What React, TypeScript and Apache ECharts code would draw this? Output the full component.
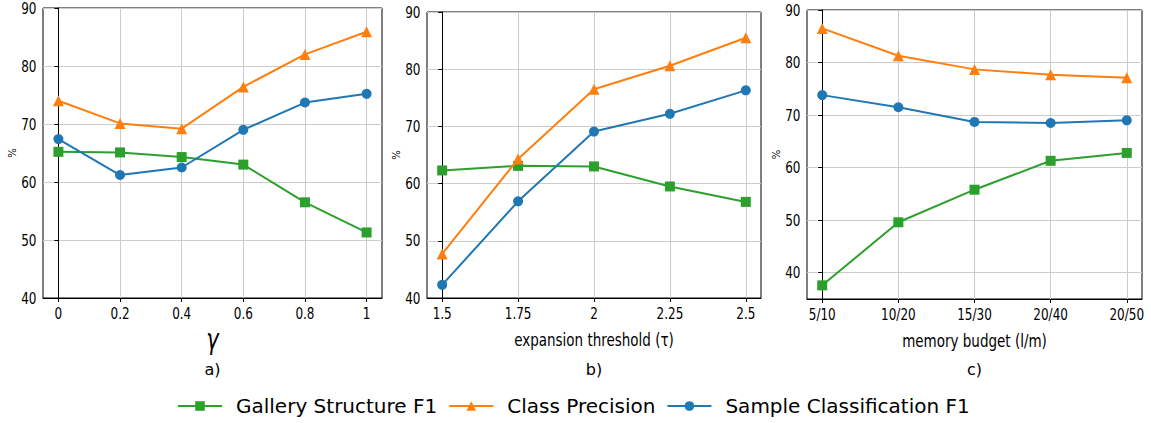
import React, { useEffect, useRef } from "react";
import * as echarts from "echarts";

const gammaLabels = ["0", "0.2", "0.4", "0.6", "0.8", "1"];
const tauLabels = ["1.5", "1.75", "2", "2.25", "2.5"];
const budgetLabels = ["5/10", "10/20", "15/30", "20/40", "20/50"];
const seriesNames = ["Gallery Structure F1", "Class Precision", "Sample Classification F1"];
const yTicks = [40, 50, 60, 70, 80, 90];

const gammaGallery = [65.2, 65.1, 64.3, 63.0, 56.5, 51.3];
const gammaPrecision = [74.0, 70.1, 69.2, 76.4, 82.0, 85.9];
const gammaSample = [67.4, 61.2, 62.5, 69.0, 73.7, 75.2];

const tauGallery = [62.3, 63.1, 63.0, 59.5, 56.8];
const tauPrecision = [47.7, 64.3, 76.5, 80.6, 85.5];
const tauSample = [42.3, 56.9, 69.1, 72.2, 76.3];

const budgetGallery = [37.6, 49.6, 55.8, 61.3, 62.8];
const budgetPrecision = [86.5, 81.3, 78.7, 77.7, 77.1];
const budgetSample = [73.8, 71.5, 68.7, 68.5, 69.0];

const colors = ["#2ca02c", "#ff7f0e", "#1f77b4"];
const symbols = ["rect", "triangle", "circle"];
const symbolSizes = [10, 11, 10];
const FONT = "DejaVu Sans";
const SQUEEZE = 0.75;

export default function App() {
  const ref = useRef<HTMLDivElement>(null);
  useEffect(() => {
    document.body.style.margin = "0";
    if (!ref.current) return;
    const chart = echarts.init(ref.current, null, { renderer: "svg" });

    const panels = [
      {
        grid: { left: 43, top: 8, width: 339, height: 290 },
        labels: gammaLabels,
        pad: 0.25,
        yMin: 40,
        data: [gammaGallery, gammaPrecision, gammaSample],
        xName: "γ",
        xNameSize: 28,
        xNameItalic: true,
        xNameY: 339,
        sub: "a)",
      },
      {
        grid: { left: 427, top: 12, width: 334, height: 286 },
        labels: tauLabels,
        pad: 0.2,
        yMin: 40,
        data: [tauGallery, tauPrecision, tauSample],
        xName: "expansion threshold (τ)",
        xNameSize: 18,
        xNameItalic: false,
        xNameY: 340,
        sub: "b)",
      },
      {
        grid: { left: 807, top: 10, width: 335, height: 289 },
        labels: budgetLabels,
        pad: 0.2,
        yMin: 35,
        data: [budgetGallery, budgetPrecision, budgetSample],
        xName: "memory budget (l/m)",
        xNameSize: 18,
        xNameItalic: false,
        xNameY: 341,
        sub: "c)",
      },
    ];

    const grids: any[] = [];
    const xAxes: any[] = [];
    const yAxes: any[] = [];
    const series: any[] = [];

    panels.forEach((p, pi) => {
      grids.push({
        ...p.grid,
        show: true,
        borderColor: "#000",
        borderWidth: 1,
        backgroundColor: "transparent",
        containLabel: false,
      });
      const idxs = p.labels.map((_, i) => i);
      xAxes.push({
        type: "value",
        gridIndex: pi,
        min: -p.pad,
        max: p.labels.length - 1 + p.pad,
        interval: 1,
        axisLine: { show: true, onZero: false, lineStyle: { color: "#000", width: 1 } },
        axisTick: { show: true, length: 4, customValues: idxs, lineStyle: { color: "#000" } },
        axisLabel: { show: false, customValues: idxs },
        splitLine: { show: true, lineStyle: { color: "#cccccc", width: 1 } },
      });
      const yVals = yTicks.filter((t) => t >= p.yMin);
      yAxes.push({
        type: "value",
        gridIndex: pi,
        min: p.yMin,
        max: 90,
        interval: 10,
        name: "%",
        nameLocation: "middle",
        nameGap: 31,
        nameRotate: 90,
        nameTextStyle: { fontFamily: FONT, fontSize: 10, color: "#000", verticalAlign: "middle" },
        axisLine: { show: true, lineStyle: { color: "#000", width: 1 } },
        axisTick: { show: true, length: 4, customValues: yVals, lineStyle: { color: "#000" } },
        axisLabel: { show: false, customValues: yVals },
        splitLine: { show: true, lineStyle: { color: "#cccccc", width: 1 } },
      });
      p.data.forEach((vals, si) => {
        series.push({
          type: "line",
          name: seriesNames[si],
          xAxisIndex: pi,
          yAxisIndex: pi,
          data: vals.map((v, i) => [i, v]),
          symbol: symbols[si],
          symbolSize: symbolSizes[si],
          showAllSymbol: true,
          color: colors[si],
          lineStyle: { color: colors[si], width: 2 },
          itemStyle: { color: colors[si] },
          z: 3 + si,
        });
      });
    });

    chart.setOption({
      animation: false,
      backgroundColor: "#fff",
      textStyle: { fontFamily: FONT },
      grid: grids,
      xAxis: xAxes,
      yAxis: yAxes,
      series,
      legend: {
        data: seriesNames,
        left: 177,
        top: 396,
        padding: 0,
        itemWidth: 44,
        itemHeight: 12,
        itemGap: 11,
        textStyle: { fontFamily: FONT, fontSize: 20, color: "#000", padding: [0, 0, 0, 9] },
      },
    });

    // tick labels and axis titles as horizontally condensed text, positioned through the axes' scales
    const graphics: any[] = [];
    const txt = (text: string, x: number, y: number, size: number, align: string, extra: any = {}) => ({
      type: "text",
      x,
      y,
      scaleX: SQUEEZE,
      silent: true,
      style: {
        text,
        fontFamily: FONT,
        fontSize: size,
        fill: "#000",
        align,
        verticalAlign: "middle",
        ...extra,
      },
    });
    panels.forEach((p, pi) => {
      const finder = { xAxisIndex: pi, yAxisIndex: pi };
      p.labels.forEach((lab, i) => {
        const pt = chart.convertToPixel(finder, [i, p.yMin]) as number[];
        graphics.push(txt(lab, pt[0], pt[1] + 15.5, 16, "center"));
      });
      yTicks
        .filter((t) => t >= p.yMin)
        .forEach((t) => {
          const pt = chart.convertToPixel(finder, [-p.pad, t]) as number[];
          graphics.push(txt(String(t), pt[0] - 6.5, pt[1], 16, "right"));
        });
      const mid = chart.convertToPixel(finder, [(p.labels.length - 1) / 2, p.yMin]) as number[];
      graphics.push(
        txt(p.xName, mid[0], p.xNameY, p.xNameSize, "center", p.xNameItalic ? { fontStyle: "italic" } : {})
      );
      graphics.push({
        type: "text",
        x: mid[0],
        y: 369,
        silent: true,
        style: {
          text: p.sub,
          fontFamily: FONT,
          fontSize: 16,
          fill: "#000",
          align: "center",
          verticalAlign: "middle",
        },
      });
    });
    chart.setOption({ graphic: graphics });

    return () => chart.dispose();
  }, []);
  return <div ref={ref} style={{ width: 1151, height: 423 }} />;
}
